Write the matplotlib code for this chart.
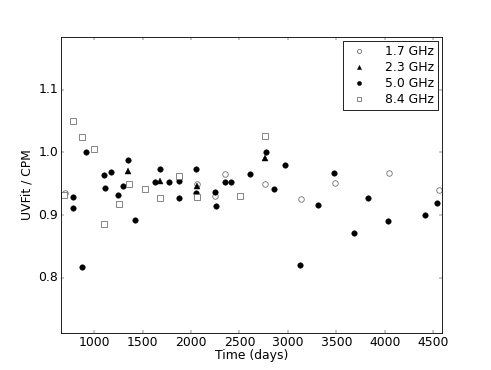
import numpy as np
import matplotlib
matplotlib.use('Agg')
import matplotlib.pyplot as plt

plt.style.use('classic')
plt.rcParams['font.size'] = 14.5

# 1.7 GHz
t_17 = [700, 2060, 2246, 2356, 2769, 3136, 3487, 4049, 4560]
r_17 = [0.936, 0.949, 0.930, 0.965, 0.950, 0.925, 0.9515, 0.9665, 0.940]

# 2.3 GHz
t_23 = [1351, 1685, 2063, 2765]
r_23 = [0.970, 0.954, 0.947, 0.991]

# 5.0 GHz
t_50 = [780, 780, 876, 921, 1097, 1110, 1175, 1248, 1299, 1351, 1427,
        1626, 1685, 1778, 1881, 1881, 2050, 2053, 2249, 2256, 2350, 2414,
        2604, 2775, 2858, 2968, 3130, 3312, 3477, 3680, 3825, 4038, 4413, 4540]
r_50 = [0.929, 0.911, 0.818, 1.000, 0.964, 0.944, 0.968, 0.932, 0.946, 0.988, 0.892,
        0.953, 0.973, 0.953, 0.955, 0.9266, 0.973, 0.936, 0.937, 0.915, 0.953, 0.953,
        0.966, 1.000, 0.9415, 0.980, 0.821, 0.9165, 0.9665, 0.872, 0.9276, 0.890, 0.9005, 0.919]

# 8.4 GHz
t_84 = [690, 780, 873, 997, 1107, 1252, 1355, 1526, 1685, 1881, 2067, 2504, 2762]
r_84 = [0.932, 1.050, 1.025, 1.005, 0.886, 0.918, 0.950, 0.942, 0.928, 0.962, 0.929, 0.930, 1.026]

dpi = 61.375
fig = plt.figure(figsize=(491 / dpi, 370 / dpi), dpi=dpi, facecolor='white')
ax = fig.add_subplot(111)
ax.set_facecolor('white')

ms = 6.5
ax.plot(t_17, r_17, 'o', mfc='white', mec='0.45', mew=1, ms=ms, label='1.7 GHz')
ax.plot(t_23, r_23, '^', mfc='black', mec='black', ms=ms, label='2.3 GHz')
ax.plot(t_50, r_50, 'o', mfc='black', mec='black', ms=ms, label='5.0 GHz')
ax.plot(t_84, r_84, 's', mfc='white', mec='0.45', mew=1, ms=ms, label='8.4 GHz')

ax.set_xlim(662, 4590)
ax.set_ylim(0.712, 1.184)
ax.set_xticks([1000, 1500, 2000, 2500, 3000, 3500, 4000, 4500])
ax.set_yticks([0.8, 0.9, 1.0, 1.1])
ax.set_yticklabels(['0.8', '0.9', '1.0', '1.1'])
ax.set_xlabel('Time (days)', labelpad=-1)
ax.set_ylabel('UVFit / CPM')

leg = ax.legend(loc='upper right', numpoints=1, fontsize=14.5, markerscale=0.75,
                labelspacing=0.25, borderpad=0.3, handletextpad=1.1,
                borderaxespad=0.35)
leg.get_frame().set_edgecolor('black')

fig.savefig('out.png', dpi=dpi, facecolor='white')
